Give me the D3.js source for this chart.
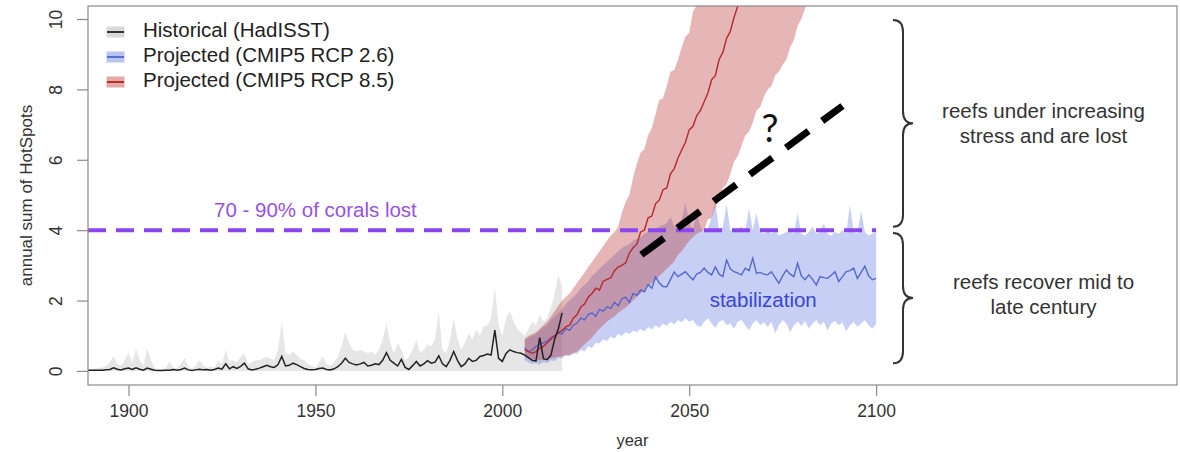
<!DOCTYPE html>
<html>
<head>
<meta charset="utf-8">
<script src="https://cdn.jsdelivr.net/npm/d3@7"></script>
<style>
  body { margin: 0; background: #fff; }
  svg { display: block; font-family: "Liberation Sans", Arial, sans-serif; }
</style>
</head>
<body>
<div class="box"></div>
<script>
// ---- data ----
const histStart = 1889;
const histMean = [
  0.02,0.02,0.02,0.02,0.02,0.03,0.04,0.09,0.05,0.03,
  0.06,0.08,0.04,0.09,0.05,0.02,0.08,0.05,0.02,0.01,
  0.01,0.02,0.02,0.04,0.02,0.04,0.08,0.03,0.01,0.03,
  0.05,0.03,0.04,0.02,0.04,0.08,0.05,0.2,0.06,0.12,
  0.07,0.13,0.22,0.06,0.03,0.05,0.08,0.12,0.16,0.12,
  0.1,0.18,0.41,0.14,0.16,0.22,0.18,0.12,0.07,0.04,
  0.03,0.04,0.07,0.08,0.04,0.03,0.06,0.12,0.22,0.36,
  0.24,0.2,0.17,0.2,0.24,0.14,0.16,0.2,0.18,0.3,
  0.52,0.3,0.22,0.14,0.33,0.1,0.04,0.15,0.27,0.14,
  0.2,0.29,0.22,0.25,0.43,0.2,0.12,0.3,0.55,0.3,
  0.12,0.2,0.36,0.27,0.3,0.41,0.44,0.48,0.45,1.16,
  0.36,0.27,0.5,0.6,0.55,0.52,0.5,0.45,0.38,0.3,
  0.28,0.95,0.35,0.32,0.45,0.9,1.2,1.65
];
const histHi = [
  0.05,0.05,0.06,0.08,0.1,0.15,0.25,0.41,0.2,0.15,
  0.3,0.52,0.25,0.64,0.3,0.15,0.64,0.3,0.08,0.05,
  0.05,0.08,0.27,0.1,0.08,0.2,0.36,0.12,0.06,0.15,
  0.31,0.15,0.1,0.12,0.1,0.3,0.2,0.6,0.25,0.3,
  0.25,0.4,0.5,0.2,0.25,0.3,0.3,0.35,0.4,0.35,
  0.3,0.6,1.4,0.5,0.45,0.55,0.45,0.35,0.3,0.2,
  0.15,0.1,0.25,0.41,0.2,0.15,0.25,0.4,0.7,1.12,
  0.8,0.6,0.55,0.6,0.55,0.5,0.55,0.45,0.6,0.9,
  1.35,0.8,0.5,0.79,0.6,0.3,0.4,0.6,0.88,0.5,
  0.6,0.75,0.7,0.9,1.68,0.6,0.5,0.9,1.5,0.9,
  0.6,0.8,1.07,0.9,1.17,1.0,1.26,1.3,1.5,2.4,
  1.3,1.0,1.5,1.72,1.4,1.2,1.1,1.0,1.2,1.4,
  1.3,1.6,1.4,1.5,1.8,2.2,2.73,2.4
];

const rcp26Start = 2006;
const rcp26Mean = [
  0.65,0.55,0.6,0.7,0.75,0.8,0.85,0.95,1.0,1.08,
  1.05,1.2,1.15,1.3,1.36,1.5,1.45,1.6,1.65,1.55,
  1.75,1.7,1.82,1.78,1.95,1.85,2.05,2.1,1.95,2.2,
  2.15,2.3,2.25,2.45,2.35,2.67,2.5,2.4,2.39,2.6,
  2.81,2.68,2.75,2.82,2.7,2.59,2.75,2.8,2.92,2.8,
  2.73,2.96,2.75,2.68,3.15,2.9,2.82,2.78,2.73,2.92,
  2.85,3.2,2.77,2.8,2.75,2.73,2.82,2.65,2.49,2.7,
  2.87,2.75,2.68,3.06,2.7,2.59,2.73,2.6,2.44,2.68,
  2.65,2.63,2.72,2.82,2.54,2.68,2.82,2.85,2.92,2.63,
  2.8,2.98,2.7,2.59,2.63
];
const rcp26Hi = [
  0.9,0.95,1.0,1.05,1.15,1.25,1.3,1.45,1.55,1.65,
  1.75,1.9,2.0,2.1,2.2,2.35,2.45,2.55,2.7,2.8,
  2.9,3.0,3.1,3.2,3.3,3.4,3.5,3.55,3.6,3.7,
  3.75,3.8,3.9,3.95,4.0,4.05,4.1,4.15,4.2,4.38,
  4.1,4.2,4.3,4.77,4.2,4.0,4.5,4.1,3.95,4.05,
  4.38,4.8,4.0,4.1,4.72,4.0,3.95,4.05,4.1,3.95,
  4.62,4.0,4.48,3.95,3.9,4.0,3.9,4.0,3.85,3.9,
  3.95,4.0,3.9,4.48,3.9,3.85,3.95,4.1,3.9,3.95,
  4.19,3.9,3.85,3.95,3.9,4.0,3.9,4.72,3.95,3.9,
  4.55,3.95,3.85,3.9,3.95
];
const rcp26Lo = [
  0.3,0.25,0.2,0.22,0.18,0.25,0.22,0.3,0.28,0.38,
  0.36,0.45,0.42,0.5,0.48,0.6,0.55,0.7,0.65,0.8,
  0.78,0.9,0.85,0.98,0.92,1.05,1.0,1.1,1.05,1.15,
  1.1,1.2,1.12,1.25,1.18,1.3,1.22,1.35,1.28,1.4,
  1.32,1.45,1.38,1.5,1.4,1.45,1.3,1.25,1.4,1.5,
  1.35,1.22,1.4,1.45,1.3,1.35,1.2,1.4,1.45,1.3,
  1.15,1.35,1.45,1.3,1.38,1.25,1.4,1.07,1.3,1.45,
  1.35,1.1,1.3,1.4,1.28,1.42,1.2,1.35,1.45,1.3,
  1.4,1.15,1.35,1.42,1.3,1.38,1.12,1.3,1.4,1.25,
  1.35,1.45,1.3,1.2,1.35
];

const rcp85Start = 2006;
const rcp85Mean = [
  0.6,0.55,0.5,0.55,0.65,0.7,0.8,0.9,1.0,1.08,
  1.15,1.25,1.3,1.5,1.6,1.82,1.9,2.1,2.2,2.35,
  2.3,2.55,2.6,2.64,2.85,2.95,3.0,3.07,3.35,3.5,
  3.6,3.95,4.0,4.35,4.4,4.75,4.86,5.15,5.2,5.6,
  5.75,6.05,6.28,6.5,6.85,6.95,7.25,7.4,7.65,7.9,
  8.27,8.4,8.85,9.05,9.45,9.65,10.05,10.37,10.7,11.0,
  11.3,11.6,11.9,12.2,12.6,12.9,13.2,13.5,13.9,14.2,
  14.5,14.9,15.2,15.5,15.9,16.2,16.6,16.9,17.3,17.6
];
const rcp85Hi = [
  0.9,1.0,1.05,1.1,1.2,1.3,1.4,1.55,1.7,1.85,
  2.0,2.1,2.2,2.35,2.5,2.65,2.8,2.95,3.1,3.25,
  3.4,3.55,3.7,3.85,3.95,4.1,4.5,4.8,5.0,5.5,
  5.9,6.2,6.3,6.7,6.9,7.3,7.7,7.75,8.1,8.5,
  8.55,8.84,9.2,9.5,9.6,10.2,10.4,10.7,11.0,11.3,
  11.6,11.9,12.2,12.5,12.8,13.1,13.4,13.7,14.0,14.3,
  14.6,14.9,15.2,15.5,15.8,16.1,16.4,16.7,17.0,17.3,
  17.6,17.9,18.2,18.5,18.8,19.1,19.4,19.7,20.0,20.3
];
const rcp85Lo = [
  0.4,0.35,0.3,0.3,0.3,0.32,0.35,0.35,0.38,0.4,
  0.42,0.44,0.46,0.5,0.55,0.65,0.75,0.85,0.95,1.08,
  1.2,1.3,1.4,1.48,1.55,1.65,1.73,1.8,1.9,2.0,
  2.1,2.2,2.3,2.4,2.5,2.6,2.7,2.8,2.9,3.0,
  3.1,3.3,3.4,3.55,3.7,3.8,3.9,3.95,4.0,4.3,
  4.35,4.65,4.86,5.2,5.3,5.6,5.95,6.1,6.4,6.7,
  6.8,7.05,7.4,7.5,7.8,8.0,8.1,8.4,8.5,8.7,
  8.84,9.2,9.4,9.8,10.0,10.3,10.6,10.9,11.2,11.5
];

const xTicks = [1900, 1950, 2000, 2050, 2100];
const yTicks = [0, 2, 4, 6, 8, 10];
const threshold = 4;
const thresholdEnd = 2100;
const guessLine = [{year: 2037.2, v: 3.3}, {year: 2091, v: 7.53}];
const legendLabels = ['Historical (HadISST)', 'Projected (CMIP5 RCP 2.6)', 'Projected (CMIP5 RCP 8.5)'];
const legendFills = ['#d9d9d9', '#b9c5f1', '#e2a9a9'];
const legendLines = ['#333333', '#5b6fd3', '#c22a2a'];

// ---- layout ----
const W = 1180, H = 452;
const box = {left: 88, right: 1177, top: 6, bottom: 385};

const svg = d3.select('.box')
              .append('svg')
              .attr('width', W)
              .attr('height', H)
              .style('background', '#fff');

const x = d3.scaleLinear().domain([1889.16, 2180.5]).range([box.left, box.right]);
const y = d3.scaleLinear().domain([-0.4, 10.37]).range([box.bottom, box.top]);

const toRows = (start, mean, lo, hi) => mean.map((m, i) => ({year: start + i, mean: m, lo: lo ? lo[i] : 0, hi: hi[i]}));
const hist = toRows(histStart, histMean, null, histHi);
const r26 = toRows(rcp26Start, rcp26Mean, rcp26Lo, rcp26Hi);
const r85 = toRows(rcp85Start, rcp85Mean, rcp85Lo, rcp85Hi);

svg.append('clipPath').attr('id', 'plotclip')
   .append('rect')
   .attr('x', box.left).attr('y', box.top)
   .attr('width', box.right - box.left).attr('height', box.bottom - box.top);

const plot = svg.append('g').attr('clip-path', 'url(#plotclip)');

const band = d3.area().x(d => x(d.year)).y0(d => y(d.lo)).y1(d => y(d.hi));
const line = d3.line().x(d => x(d.year)).y(d => y(d.mean));

// bands
plot.append('path').datum(hist).attr('d', band).attr('fill', 'rgb(150,150,150)').attr('fill-opacity', 0.24);
plot.append('path').datum(r26).attr('d', band).attr('fill', 'rgb(80,110,222)').attr('fill-opacity', 0.32);
plot.append('path').datum(r85).attr('d', band).attr('fill', 'rgb(185,50,50)').attr('fill-opacity', 0.36);

// threshold
plot.append('line')
    .attr('x1', box.left).attr('x2', x(thresholdEnd))
    .attr('y1', y(threshold)).attr('y2', y(threshold))
    .attr('stroke', '#8a45ee').attr('stroke-width', 4)
    .attr('stroke-dasharray', '18,10');

// lines
plot.append('path').datum(r26).attr('d', line).attr('fill', 'none').attr('stroke', '#5468cc').attr('stroke-width', 1.4);
plot.append('path').datum(r85).attr('d', line).attr('fill', 'none').attr('stroke', '#b8282a').attr('stroke-width', 1.4);
plot.append('path').datum(hist).attr('d', line).attr('fill', 'none').attr('stroke', '#222').attr('stroke-width', 1.5);

// guess line
plot.append('path').datum(guessLine)
    .attr('d', d3.line().x(d => x(d.year)).y(d => y(d.v)))
    .attr('stroke', '#000').attr('stroke-width', 7).attr('fill', 'none')
    .attr('stroke-dasharray', '28,17');

// box
svg.append('rect')
   .attr('x', box.left).attr('y', box.top)
   .attr('width', box.right - box.left).attr('height', box.bottom - box.top)
   .attr('fill', 'none').attr('stroke', '#8a8a8a').attr('stroke-width', 1.2);

// axes
const axeX = d3.axisBottom(x).tickValues(xTicks).tickFormat(d3.format('d')).tickSize(11).tickPadding(6);
const axeY = d3.axisLeft(y).tickValues(yTicks).tickSize(11).tickPadding(6);

const gx = svg.append('g').attr('transform', `translate(0, ${box.bottom})`).call(axeX);
const gy = svg.append('g').attr('transform', `translate(${box.left}, 0)`).call(axeY);
[gx, gy].forEach(g => {
  g.select('.domain').remove();
  g.selectAll('line').attr('stroke', '#8a8a8a').attr('stroke-width', 1.2);
  g.selectAll('text').attr('fill', '#333').style('font-size', '17.5px').style('font-family', '"Liberation Sans", Arial, sans-serif');
});
gx.selectAll('text').attr('dy', null).attr('y', 27).attr('dominant-baseline', 'middle');
gy.selectAll('text')
  .attr('x', null).attr('dy', null)
  .attr('text-anchor', 'middle')
  .attr('dominant-baseline', 'middle')
  .attr('transform', 'translate(-31, 0) rotate(-90)');

svg.append('text')
   .attr('x', (box.left + box.right) / 2).attr('y', 442)
   .attr('text-anchor', 'middle').attr('dominant-baseline', 'middle')
   .attr('fill', '#333').style('font-size', '16.5px').text('year');

svg.append('text')
   .attr('transform', `translate(28, ${(box.top + box.bottom) / 2}) rotate(-90)`)
   .attr('text-anchor', 'middle').attr('dominant-baseline', 'middle')
   .attr('fill', '#333').style('font-size', '17px').text('annual sum of HotSpots');

// legend
const leg = svg.append('g');
legendLabels.forEach((lab, i) => {
  const cy = 32 + i * 25;
  leg.append('rect').attr('x', 107).attr('y', cy - 5).attr('width', 17).attr('height', 10)
     .attr('fill', legendFills[i]).attr('stroke', legendFills[i]);
  leg.append('line').attr('x1', 107).attr('x2', 124).attr('y1', cy).attr('y2', cy)
     .attr('stroke', legendLines[i]).attr('stroke-width', 2);
  leg.append('text').attr('x', 143).attr('y', cy).attr('dominant-baseline', 'middle')
     .attr('fill', '#222').style('font-size', '20.5px').text(lab);
});

// annotations
svg.append('text')
   .attr('x', x(1950)).attr('y', y(4.52))
   .attr('text-anchor', 'middle').attr('dominant-baseline', 'middle')
   .attr('fill', '#9652e8').style('font-size', '20.5px').text('70 - 90% of corals lost');

svg.append('text')
   .attr('x', x(2069.8)).attr('y', y(1.96))
   .attr('text-anchor', 'middle').attr('dominant-baseline', 'middle')
   .attr('fill', '#3845d8').style('font-size', '20.5px').text('stabilization');

svg.append('text')
   .attr('x', x(2071.6)).attr('y', y(6.79))
   .attr('text-anchor', 'middle').attr('dominant-baseline', 'middle')
   .attr('fill', '#111').style('font-size', '38px').style('font-family', 'Lato, "Open Sans", sans-serif')
   .text('?');

// braces
const brace = (bx, y0, y1, w, q) => {
  const ym = (y0 + y1) / 2, mx = bx + w / 2;
  return `M${bx},${y0} Q${mx},${y0} ${mx},${y0 + q} L${mx},${ym - q} Q${mx},${ym} ${bx + w},${ym}` +
         ` Q${mx},${ym} ${mx},${ym + q} L${mx},${y1 - q} Q${mx},${y1} ${bx},${y1}`;
};
const braces = [
  {from: 9.97, to: 4.1, lines: ['reefs under increasing', 'stress and are lost']},
  {from: 3.92, to: 0.22, lines: ['reefs recover mid to', 'late century']}
];
braces.forEach(b => {
  svg.append('path').attr('d', brace(893, y(b.from), y(b.to), 20, 12))
     .attr('fill', 'none').attr('stroke', '#333').attr('stroke-width', 2);
  const mid = (y(b.from) + y(b.to)) / 2;
  b.lines.forEach((t, i) => {
    svg.append('text').attr('x', 1043.5).attr('y', mid + (i - 0.5) * 25 + (b.from > 5 ? 2 : -2))
       .attr('text-anchor', 'middle').attr('dominant-baseline', 'middle')
       .attr('fill', '#333').style('font-size', '20.5px').text(t);
  });
});
</script>
</body>
</html>
